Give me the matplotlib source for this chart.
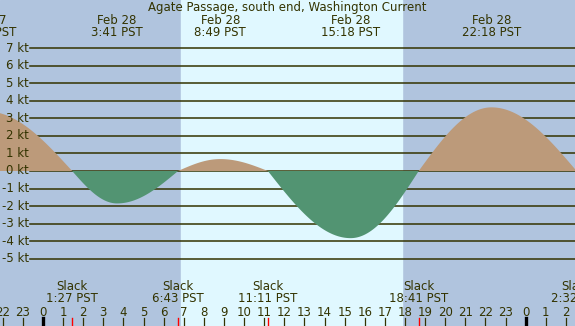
import numpy as np
import matplotlib.pyplot as plt
import matplotlib.transforms as mtransforms

# hours relative to midnight Feb 28 (PST)
event_hours = [-2.8, 1.45, 3.683, 6.717, 8.817, 11.183, 15.3, 18.683, 22.3, 26.533]
event_speeds = [3.4, 0.0, -1.85, 0.0, 0.68, 0.0, -3.83, 0.0, 3.63, 0.0]

max_hours = [-2.8, 3.683, 8.817, 15.3, 22.3]
max_days = ["Feb 27", "Feb 28", "Feb 28", "Feb 28", "Feb 28"]
max_labels = ["21:12 PST", "3:41 PST", "8:49 PST", "15:18 PST", "22:18 PST"]

slack_hours = [1.45, 6.717, 11.183, 18.683, 26.533]
slack_labels = ["1:27 PST", "6:43 PST", "11:11 PST", "18:41 PST", "2:32 PST"]

sunrise, sunset = 6.867, 17.85
kt_levels = list(range(-5, 8))
hour_ticks = list(range(-2, 27))

NIGHT = "#B0C4DE"
DAY = "#E0F8FF"
FLOOD = "#BC9A7A"
EBB = "#529472"
INK = "#333300"

px_per_h = 20.11
px_per_kt = 17.53
x0_px, y0_px = 43, 171
W, H = 575, 326

fig = plt.figure(figsize=(W / 100, H / 100), dpi=100)
ax = fig.add_axes([0, 0, 1, 1])
ax.set_xlim(-x0_px / px_per_h, (W - x0_px) / px_per_h)
ax.set_ylim(-(H - y0_px) / px_per_kt, y0_px / px_per_kt)
ax.axis("off")
ax.add_patch(plt.Rectangle((0, 0), 1, 1, transform=ax.transAxes, color=NIGHT, zorder=0))
ax.axvspan(sunrise, sunset, color=DAY, zorder=0.5)

# curve between events: quarter sine from slack to max, quarter cosine back
t = np.linspace(ax.get_xlim()[0], ax.get_xlim()[1], 1500)
v = np.zeros_like(t)
for a, b, va, vb in zip(event_hours[:-1], event_hours[1:], event_speeds[:-1], event_speeds[1:]):
    m = (t >= a) & (t <= b)
    ph = np.pi / 2 * (t[m] - a) / (b - a)
    v[m] = vb * np.sin(ph) if va == 0 else va * np.cos(ph)

lab_x = (29 - x0_px) / px_per_h
for k in kt_levels:
    ax.plot([(30 - x0_px) / px_per_h, 30], [k, k], color=INK, lw=1.1, zorder=1)
    ax.text(lab_x, k, f"{k} kt", ha="right", va="center", fontsize=8.5, color=INK, zorder=3)

ax.fill_between(t, v, 0, where=v >= 0, interpolate=True, color=FLOOD, lw=0, zorder=2)
ax.fill_between(t, v, 0, where=v <= 0, interpolate=True, color=EBB, lw=0, zorder=2)

tr = mtransforms.blended_transform_factory(ax.transData, ax.transAxes)
fy = lambda py: 1 - py / H

ax.text(0.5, fy(8), "Agate Passage, south end, Washington Current", transform=ax.transAxes,
        ha="center", va="center", fontsize=8.5, color=INK)
for h, d, lab in zip(max_hours, max_days, max_labels):
    ax.text(h, fy(20), d, transform=tr, ha="center", va="center", fontsize=8.5, color=INK)
    ax.text(h, fy(32), lab, transform=tr, ha="center", va="center", fontsize=8.5, color=INK)
for h, lab in zip(slack_hours, slack_labels):
    ax.text(h, fy(287), "Slack", transform=tr, ha="center", va="center", fontsize=8.5, color=INK)
    ax.text(h, fy(299), lab, transform=tr, ha="center", va="center", fontsize=8.5, color=INK)
    ax.plot([h, h], [0, fy(318)], transform=tr, color="red", lw=1, zorder=3)

for h in hour_ticks:
    ax.text(h, fy(312), str(h % 24), transform=tr, ha="center", va="center", fontsize=8.5, color=INK)
    midnight = h % 24 == 0
    ax.plot([h, h], [0, fy(318)], transform=tr, color="black" if midnight else INK,
            lw=2.4 if midnight else 0.9, zorder=3)

fig.savefig("out.png", dpi=100)
